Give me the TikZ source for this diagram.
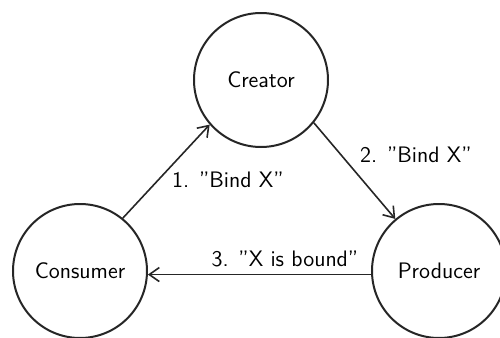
\documentclass[tikz,border=0pt]{standalone}
\usetikzlibrary{arrows.meta}
\begin{document}
\begin{tikzpicture}[x=0.5pt,y=-0.5pt,
  actor/.style={draw=black!85,line width=1pt,circle,minimum size=67pt,inner sep=0pt,
    font=\fontsize{11.2}{13}\sffamily},
  msg/.style={draw=black!85,line width=0.8pt,-{Straight Barb[length=5pt,width=7pt,line width=0.8pt]}},
  lbl/.style={font=\fontsize{11.2}{13}\sffamily,inner sep=0pt}]
\useasboundingbox (0,0) rectangle (500,338);
\node[actor] (creator) at (261,80) {Creator};
\node[actor] (consumer) at (80,271) {Consumer};
\node[actor] (producer) at (439,271) {Producer};
\draw[msg] (consumer.51.5) -- (creator.221.6);
\draw[msg] (creator.-39.6) -- (producer.130.2);
\draw[msg] (producer.183.3) -- (consumer.-3.3);
\node[lbl] (l1) at (228,180) {1. "Bind X"};
\node[lbl] (l2) at (416,155) {2. "Bind X"};
\node[lbl] (l3) at (285,259) {3. "X is bound"};
\end{tikzpicture}
\end{document}
